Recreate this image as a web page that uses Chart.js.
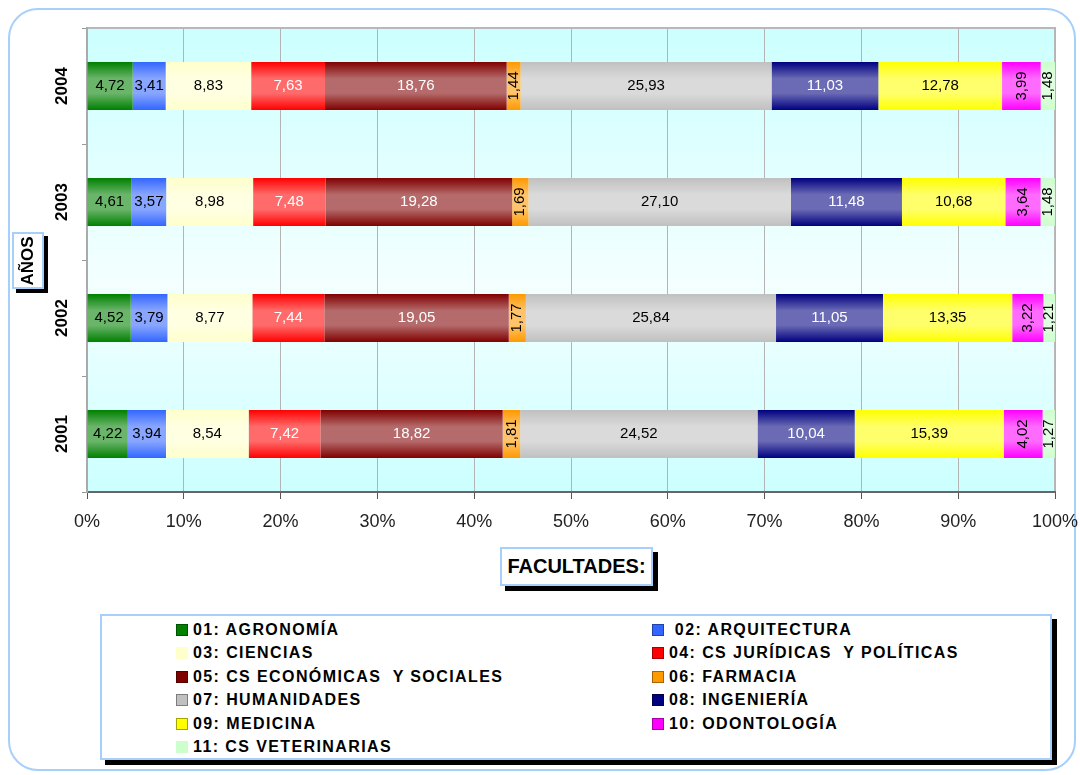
<!DOCTYPE html>
<html>
<head>
<meta charset="utf-8">
<script src="https://cdn.jsdelivr.net/npm/chart.js@4.4.0/dist/chart.umd.min.js"></script>
<style>
    body { margin: 0; background: #ffffff; font-family: "Liberation Sans", Arial, sans-serif; }
    .frame { position: absolute; left: 8px; top: 8px; width: 1064px; height: 759px; border: 2px solid #a6d0fb; border-radius: 30px; pointer-events: none; }
    .chart-box { position: absolute; left: 0; top: 0; width: 1080px; height: 545px; }
    .tag { position: absolute; background: #fff; border: 2px solid #a6d0fb; font-weight: bold; color: #000; box-sizing: border-box; }
    .tag-y { left: 12px; top: 232px; width: 32px; height: 57px; box-shadow: 4px 4px 0 #000; }
    .tag-y span { position: absolute; left: 50%; top: 50%; transform: translate(-50%, -50%) rotate(-90deg); font-size: 17px; white-space: nowrap; }
    .tag-x { left: 500px; top: 547px; width: 153px; height: 39px; box-shadow: 5px 5px 0 #000; font-size: 20px; text-align: center; line-height: 35px; }
    .legend { position: absolute; left: 100px; top: 614px; width: 952px; height: 146px; box-sizing: border-box; border: 2px solid #a6d0fb; background: #fff; box-shadow: 5px 5px 0 #000;
              display: grid; grid-template-columns: 476px auto; grid-auto-rows: 23.5px; padding: 2px 0 0 74px; }
    .legend div { font-size: 16px; font-weight: bold; letter-spacing: 1.4px; white-space: pre; display: flex; align-items: center; }
    .legend i { display: inline-block; width: 10px; height: 10px; margin-right: 5px; border: 1px solid; }
</style>
</head>
<body>
<div class="frame"></div>
<div class="chart-box"><canvas id="facChart"></canvas></div>
<div class="tag tag-y"><span>AÑOS</span></div>
<div class="tag tag-x">FACULTADES:</div>
<div class="legend" id="legend"></div>

<script>
// years, top to bottom
const years = ['2004', '2003', '2002', '2001'];

// share of each faculty (%), same order as years
const agronomia    = [4.72, 4.61, 4.52, 4.22];
const arquitectura = [3.41, 3.57, 3.79, 3.94];
const ciencias     = [8.83, 8.98, 8.77, 8.54];
const juridicas    = [7.63, 7.48, 7.44, 7.42];
const economicas   = [18.76, 19.28, 19.05, 18.82];
const farmacia     = [1.44, 1.69, 1.77, 1.81];
const humanidades  = [25.93, 27.10, 25.84, 24.52];
const ingenieria   = [11.03, 11.48, 11.05, 10.04];
const medicina     = [12.78, 10.68, 13.35, 15.39];
const odontologia  = [3.99, 3.64, 3.22, 4.02];
const veterinarias = [1.48, 1.48, 1.21, 1.27];

const xTicks = [0, 10, 20, 30, 40, 50, 60, 70, 80, 90, 100];

const series = [
    { label: '01: AGRONOMÍA', data: agronomia, color: '#008000', text: '#000' },
    { label: ' 02: ARQUITECTURA', data: arquitectura, color: '#3366ff', text: '#000' },
    { label: '03: CIENCIAS', data: ciencias, color: '#ffffcc', text: '#000' },
    { label: '04: CS JURÍDICAS  Y POLÍTICAS', data: juridicas, color: '#ff0000', text: '#fff' },
    { label: '05: CS ECONÓMICAS  Y SOCIALES', data: economicas, color: '#800000', text: '#fff' },
    { label: '06: FARMACIA', data: farmacia, color: '#ff9900', text: '#000', rotate: true },
    { label: '07: HUMANIDADES', data: humanidades, color: '#c0c0c0', text: '#000' },
    { label: '08: INGENIERÍA', data: ingenieria, color: '#000080', text: '#fff' },
    { label: '09: MEDICINA', data: medicina, color: '#ffff00', text: '#000' },
    { label: '10: ODONTOLOGÍA', data: odontologia, color: '#ff00ff', text: '#000', rotate: true },
    { label: '11: CS VETERINARIAS', data: veterinarias, color: '#ccffcc', text: '#000', rotate: true }
];

const FONT = '"Liberation Sans", Arial, sans-serif';

// plot background: cyan gradient + grey frame
const plotBackground = {
    id: 'plotBackground',
    beforeDraw(chart) {
        const { ctx, chartArea: a } = chart;
        const g = ctx.createLinearGradient(0, a.top, 0, a.bottom);
        g.addColorStop(0, '#ccffff');
        g.addColorStop(0.55, '#f4ffff');
        g.addColorStop(1, '#ccffff');
        ctx.save();
        ctx.fillStyle = g;
        ctx.fillRect(a.left, a.top, a.right - a.left, a.bottom - a.top);
        ctx.strokeStyle = '#b8b8b8';
        ctx.lineWidth = 2;
        ctx.strokeRect(a.left, a.top, a.right - a.left, a.bottom - a.top);
        ctx.restore();
    }
};

// shine on each bar + value labels
const barLabels = {
    id: 'barLabels',
    afterDatasetsDraw(chart) {
        const ctx = chart.ctx;
        ctx.save();
        chart.data.datasets.forEach((ds, i) => {
            const meta = chart.getDatasetMeta(i);
            meta.data.forEach(bar => {
                const p = bar.getProps(['x', 'y', 'base', 'height'], true);
                const left = Math.min(p.x, p.base), w = Math.abs(p.x - p.base);
                const top = p.y - p.height / 2;
                const g = ctx.createLinearGradient(0, top, 0, top + p.height);
                g.addColorStop(0, 'rgba(255,255,255,0)');
                g.addColorStop(0.35, 'rgba(255,255,255,0.42)');
                g.addColorStop(0.65, 'rgba(255,255,255,0.42)');
                g.addColorStop(1, 'rgba(255,255,255,0)');
                ctx.fillStyle = g;
                ctx.fillRect(left, top, w, p.height);
            });
        });
        ctx.font = '15px ' + FONT;
        ctx.textAlign = 'center';
        ctx.textBaseline = 'middle';
        chart.data.datasets.forEach((ds, i) => {
            const meta = chart.getDatasetMeta(i);
            const s = series[i];
            meta.data.forEach((bar, j) => {
                const p = bar.getProps(['x', 'y', 'base'], true);
                const cx = (p.x + p.base) / 2;
                const txt = ds.data[j].toFixed(2).replace('.', ',');
                ctx.fillStyle = s.text;
                if (s.rotate) {
                    ctx.save();
                    ctx.translate(cx, p.y);
                    ctx.rotate(-Math.PI / 2);
                    ctx.fillText(txt, 0, 0);
                    ctx.restore();
                } else {
                    ctx.fillText(txt, cx, p.y);
                }
            });
        });
        ctx.restore();
    }
};

const ctx = document.getElementById('facChart').getContext('2d');
const chart = new Chart(ctx, {
    type: 'bar',
    data: {
        labels: years,
        datasets: series.map(s => ({
            label: s.label,
            data: s.data,
            backgroundColor: s.color,
            borderWidth: 0,
            barPercentage: 0.414,
            categoryPercentage: 1
        }))
    },
    options: {
        indexAxis: 'y',
        responsive: true,
        maintainAspectRatio: false,
        animation: false,
        layout: { padding: { left: 0, top: 28, right: 25, bottom: 0 } },
        plugins: {
            legend: { display: false },
            tooltip: { enabled: false }
        },
        scales: {
            x: {
                stacked: true,
                min: 0,
                max: 100,
                afterFit: scale => {
                    scale.height = 53;
                    scale.paddingLeft = 0;
                    scale.paddingRight = 0;
                },
                afterBuildTicks: scale => { scale.ticks = xTicks.map(v => ({ value: v })); },
                grid: { color: '#b4b4b4', tickColor: '#555', tickLength: 7 },
                border: { color: '#666', width: 2 },
                ticks: {
                    color: '#222',
                    padding: 12,
                    font: { family: FONT, size: 18 },
                    callback: v => v + '%'
                }
            },
            y: {
                stacked: true,
                afterFit: scale => { scale.width = 87; },
                grid: { offset: true, drawOnChartArea: false, tickLength: 5, color: '#999' },
                border: { color: '#aaa', width: 2 },
                ticks: {
                    color: '#000',
                    minRotation: 90,
                    maxRotation: 90,
                    crossAlign: 'center',
                    padding: 1,
                    font: { family: FONT, size: 17, weight: 'bold' }
                }
            }
        }
    },
    plugins: [plotBackground, barLabels]
});

// html legend, two columns like the original
const legendBox = document.getElementById('legend');
series.forEach(s => {
    const item = document.createElement('div');
    const sw = document.createElement('i');
    sw.style.background = s.color;
    sw.style.borderColor = s.color === '#ffffcc' || s.color === '#ccffcc' ? s.color : 'rgba(0,0,0,0.35)';
    item.appendChild(sw);
    item.appendChild(document.createTextNode(s.label));
    legendBox.appendChild(item);
});
</script>
</body>
</html>
